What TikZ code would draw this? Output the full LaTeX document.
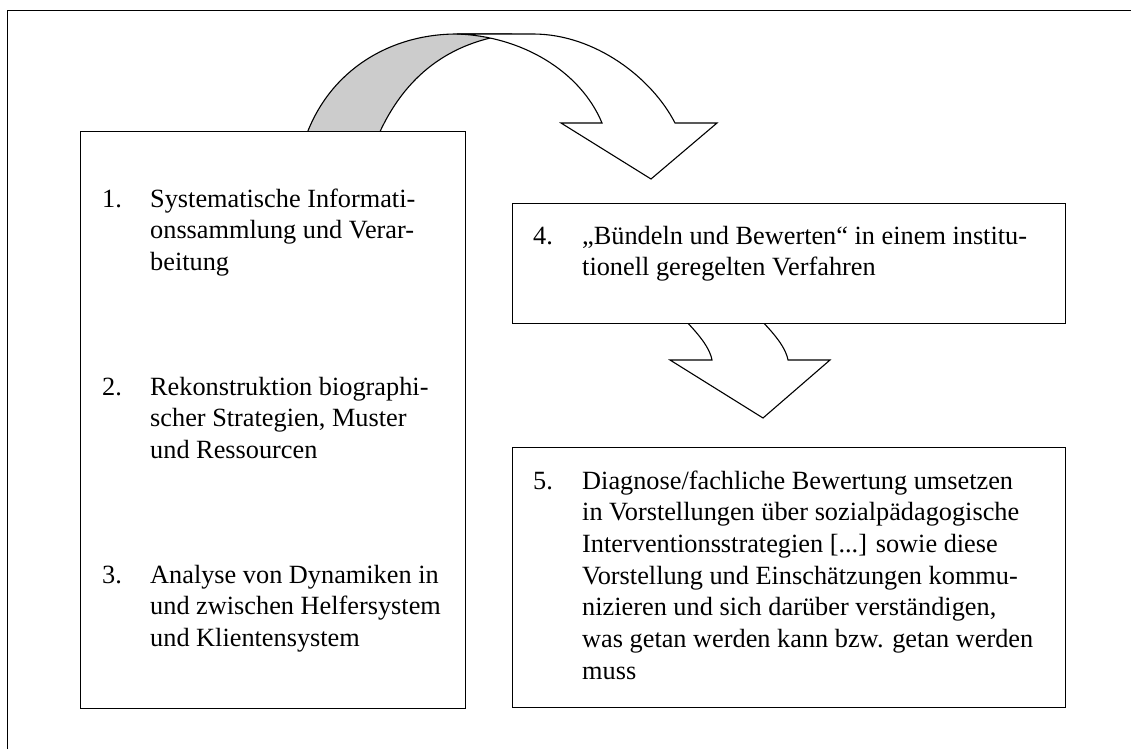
\documentclass[tikz,border=0pt]{standalone}
\usepackage{fontspec}
\setmainfont{Liberation Serif}
\definecolor{bandgray}{HTML}{CCCCCC}
\newcommand\itemfont{\fontsize{26.3}{31.7}\selectfont}
\newcommand\itemtext[2]{\parbox[t]{#1}{\itemfont\raggedright #2}}
\begin{document}
\begin{tikzpicture}[x=1pt,y=-1pt,
  box/.style={draw=black, line width=1.3pt, fill=white, inner sep=0pt, anchor=north west},
  num/.style={anchor=base west, inner sep=0pt, font=\itemfont},
  txt/.style={anchor=base west, inner sep=0pt},
  arr/.style={draw=black, line width=1.1pt, line join=miter},
  frame/.style={draw=black, line width=1.3pt}]
\useasboundingbox (0,0) rectangle (1131,749);
% outer frame (only top and left edges visible)
\coordinate (fA) at (7.5,749);
\coordinate (fB) at (7.5,10.5);
\coordinate (fC) at (1131,10.5);
\draw[frame] (fA) -- (fB) -- (fC);
% curved arrow: shaded back band
\draw[arr, fill=bandgray] (306,136) .. controls (330,70) and (390,34) .. (457,34)
  -- (512,34) .. controls (450,42) and (405,75) .. (378,136) -- cycle;
% curved arrow: white front band with head
\draw[arr, fill=white] (457,34) -- (533,34) .. controls (595,34) and (652,78) .. (675,123)
  -- (717,123) -- (651,179) -- (561,123) -- (602,123)
  .. controls (580,70) and (520,36) .. (457,34) -- cycle;
% left box
\node[box, minimum width=385pt, minimum height=577pt] (b1) at (80,131) {};
\node[num] (n1) at (102,207) {1.};
\node[txt] (t1) at (150,207) {\itemtext{310pt}{Systematische Informati-\\onssammlung und Verar-\\beitung}};
\node[num] (n2) at (102,395) {2.};
\node[txt] (t2) at (150,395) {\itemtext{310pt}{Rekonstruktion biographi-\\scher Strategien, Muster\\und Ressourcen}};
\node[num] (n3) at (102,583) {3.};
\node[txt] (t3) at (150,583) {\itemtext{310pt}{Analyse von Dynamiken in\\und zwischen Helfersystem\\und Klientensystem}};
% down arrow
\draw[arr, fill=white] (675,310) .. controls (695,330) and (709,345) .. (712,360)
  -- (670,360) -- (763,418) -- (830,360) -- (788,360)
  .. controls (785,345) and (771,330) .. (751,310) -- cycle;
% box 4
\node[box, minimum width=553pt, minimum height=120pt] (b4) at (512,203) {};
\node[num] (n4) at (533,244) {4.};
\node[txt] (t4) at (582,244) {\itemtext{480pt}{„Bündeln und Bewerten“ in einem institu-\\tionell geregelten Verfahren}};
% box 5
\node[box, minimum width=553pt, minimum height=260pt] (b5) at (512,447) {};
\node[num] (n5) at (533,489) {5.};
\node[txt] (t5) at (582,489) {\itemtext{480pt}{Diagnose/fachliche Bewertung umsetzen\\in Vorstellungen über sozialpädagogische\\Interventionsstrategien [...] sowie diese\\Vorstellung und Einschätzungen kommu-\\nizieren und sich darüber verständigen,\\was getan werden kann bzw. getan werden\\muss}};
\end{tikzpicture}
\end{document}
